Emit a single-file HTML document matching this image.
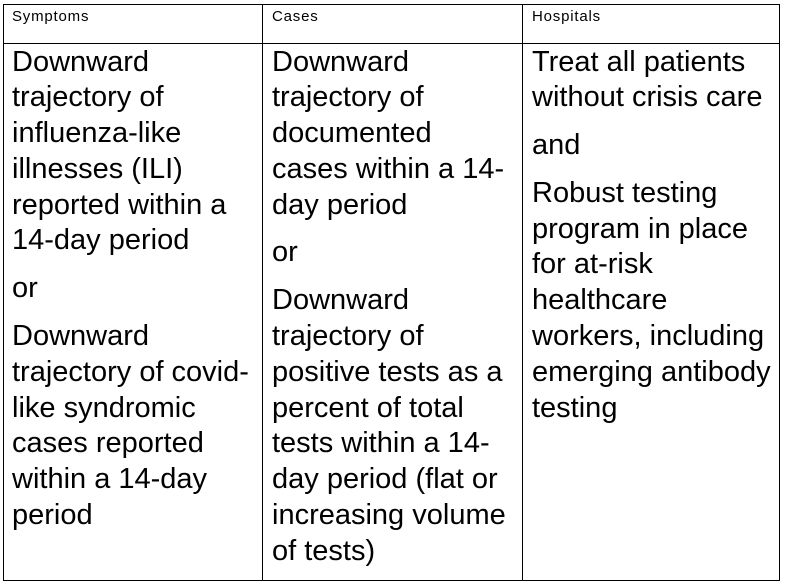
<!DOCTYPE html>
<html><head><style>
body{margin:0;width:787px;height:585px;background:#fff;position:relative;overflow:hidden;font-family:"Liberation Sans",Arial,sans-serif;color:#000}
.l{position:absolute;background:#000}
.h{position:absolute;top:8px;font-size:15px;line-height:17px;letter-spacing:0.8px}
.c{position:absolute;top:44.5px;font-size:29px;line-height:35.8px;white-space:nowrap}
.c p{margin:0 0 12px 0}
</style></head><body>
<div class="l" style="left:3px;top:4px;width:777px;height:1px"></div>
<div class="l" style="left:3px;top:43px;width:777px;height:1px"></div>
<div class="l" style="left:3px;top:580px;width:777px;height:1px"></div>
<div class="l" style="left:3px;top:4px;width:1px;height:577px"></div>
<div class="l" style="left:262px;top:4px;width:1px;height:577px"></div>
<div class="l" style="left:522px;top:4px;width:1px;height:577px"></div>
<div class="l" style="left:779px;top:4px;width:1px;height:577px"></div>
<div class="h" style="left:12px">Symptoms</div>
<div class="h" style="left:272px">Cases</div>
<div class="h" style="left:532px">Hospitals</div>
<div class="c" style="left:12px"><p>Downward<br>trajectory of<br>influenza-like<br>illnesses (ILI)<br>reported within a<br>14-day period</p><p>or</p><p>Downward<br>trajectory of covid-<br>like syndromic<br>cases reported<br>within a 14-day<br>period</p></div>
<div class="c" style="left:272px"><p>Downward<br>trajectory of<br>documented<br>cases within a 14-<br>day period</p><p>or</p><p>Downward<br>trajectory of<br>positive tests as a<br>percent of total<br>tests within a 14-<br>day period (flat or<br>increasing volume<br>of tests)</p></div>
<div class="c" style="left:532px"><p>Treat all patients<br>without crisis care</p><p>and</p><p>Robust testing<br>program in place<br>for at-risk<br>healthcare<br>workers, including<br>emerging antibody<br>testing</p></div>
</body></html>
